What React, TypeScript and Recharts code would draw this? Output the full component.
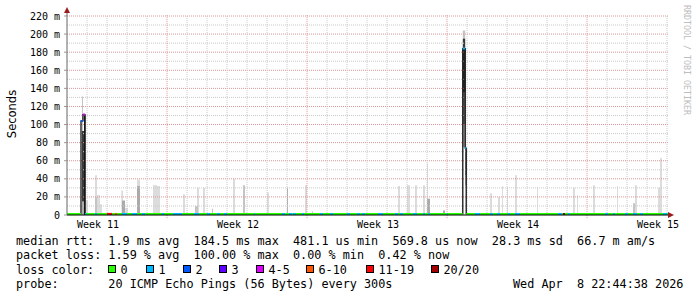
import { ComposedChart, Line, XAxis, YAxis, ReferenceArea, ReferenceLine } from 'recharts';

const MONO = "'DejaVu Sans Mono', monospace";
const SANS = "'DejaVu Sans', sans-serif";

// x axis runs in days from the left edge of the graph
const weekLabels = ['Week 11', 'Week 12', 'Week 13', 'Week 14', 'Week 15'];
const weekLabelAt = [1.55, 8.55, 15.55, 22.55, 29.55];
const weekStarts = [5, 12, 19, 26];
const dayLines = [1, 2, 3, 4, 6, 7, 8, 9, 10, 11, 13, 14, 15, 16, 17, 18, 20, 21, 22, 23, 24, 25, 27, 28, 29, 30];
const yTicks = [0, 20, 40, 60, 80, 100, 120, 140, 160, 180, 200, 220];
const yMinor = [10, 30, 50, 70, 90, 110, 130, 150, 170, 190, 210];

const lossLabels = ['0', '1', '2', '3', '4-5', '6-10', '11-19', '20/20'];
const lossColors = ['#26ff00', '#00b8ff', '#0059ff', '#5e00ff', '#dd00ff', '#ff5500', '#ff0000', '#a10000'];

// median rtt in ms (drawn as a step line)
const medianDay = [0, 0.7, 0.8, 0.9, 19.79, 19.91, 19.96, 30.1];
const medianMs = [1.2, 104, 111, 1.2, 184, 74, 1.2, 1.2];

// median segments coloured by loss level (index into lossColors)
const segStart = [0, 0.9, 19.96, 0.7, 0.8, 19.79, 19.91,
  0.9, 1.4, 2.0, 2.4, 2.75, 3.25, 3.75, 4.75, 5.3, 6.35, 7.0, 7.5, 7.85, 9.35,
  10.75, 11.1, 11.3, 11.75, 12.65, 13.15, 14.0, 14.5, 14.75, 15.55, 16.4, 16.65, 17.3, 17.8, 18.05, 19.0,
  20.4, 21.15, 21.5, 22.05, 22.4, 24.55, 24.8, 25.05, 26.9, 27.3, 27.9, 28.3, 28.65, 29.8];
const segEnd = [0.7, 19.79, 30.1, 0.8, 0.9, 19.91, 19.96,
  0.97, 1.5, 2.25, 2.5, 3.0, 3.5, 3.9, 4.85, 5.75, 6.6, 7.15, 7.65, 8.0, 9.4,
  10.9, 11.25, 11.45, 11.85, 12.8, 13.3, 14.15, 14.65, 14.9, 15.8, 16.55, 16.8, 17.5, 17.9, 18.15, 19.05,
  20.65, 21.3, 21.65, 22.15, 22.65, 24.75, 24.9, 25.15, 27.05, 27.4, 28.05, 28.5, 28.8, 30.0];
const segMs = [1.2, 1.2, 1.2, 104, 111, 184, 74,
  1.2, 1.2, 1.2, 1.2, 1.2, 1.2, 1.2, 1.2, 1.2, 1.2, 1.2, 1.2, 1.2, 1.2,
  1.2, 1.2, 1.2, 1.2, 1.2, 1.2, 1.2, 1.2, 1.2, 1.2, 1.2, 1.2, 1.2, 1.2, 1.2, 1.2,
  1.2, 1.2, 1.2, 1.2, 1.2, 1.2, 1.2, 1.2, 1.2, 1.2, 1.2, 1.2, 1.2, 1.2];
const segLoss = [0, 0, 0, 2, 4, 1, 1,
  1, 1, 6, 5, 1, 1, 1, 1, 1, 1, 1, 1, 1, 1,
  1, 1, 1, 1, 1, 1, 1, 1, 1, 1, 1, 1, 1, 1, 1, 1,
  1, 1, 1, 1, 1, 1, 7, 1, 1, 1, 1, 1, 1, 1];

// smoke (rtt spread) in ms; density 0 = light .. 4 = dense
const smokeStart = [0.75, 0.75, 0.75, 0.85, 19.79, 19.79, 19.79, 19.79, 19.91, 19.91,
  0.95, 1.4, 1.4, 1.5, 1.65, 2.73, 2.75, 2.9, 3.5, 3.5, 4.3, 4.5, 5.8, 6.5, 6.4, 6.8, 7.25, 8.3, 8.8,
  10.0, 11.0, 11.9, 12.25, 16.55, 17.0, 17.4, 17.8, 18.0, 18.0, 18.8, 21.15, 21.55, 21.75, 22.0, 22.4,
  23.5, 25.3, 25.5, 26.3, 27.5, 28.4, 28.3, 29.55, 29.65];
const smokeEnd = [0.8, 0.85, 0.85, 0.92, 19.91, 19.91, 19.91, 19.91, 19.97, 19.97,
  1.05, 1.5, 1.5, 1.65, 1.75, 2.78, 2.9, 3.05, 3.65, 3.65, 4.5, 4.65, 5.9, 6.6, 6.55, 6.9, 7.3, 8.4, 8.9,
  10.1, 11.05, 12.0, 12.3, 16.65, 17.15, 17.5, 17.9, 18.05, 18.15, 18.9, 21.25, 21.65, 21.8, 22.05, 22.5,
  23.55, 25.4, 25.55, 26.4, 27.55, 28.5, 28.4, 29.7, 29.75];
const smokeLo = [93, 0, 15, 0, 195, 136, 100, 75, 33, 44,
  0, 0, 0, 0, 0, 0, 0, 0, 0, 0, 0, 0, 0, 0, 0, 0, 0, 0, 0,
  0, 0, 0, 0, 0, 0, 0, 0, 0, 0, 0, 0, 0, 0, 0, 0,
  0, 0, 0, 0, 0, 0, 0, 0, 0];
const smokeHi = [131, 15, 93, 110, 204, 195, 136, 100, 44, 74,
  16, 44, 20, 22, 12, 27, 16, 8, 39, 32, 33, 32, 23, 30, 10, 30, 7, 40, 33,
  25, 30, 33, 4, 32, 33, 33, 33, 57, 18, 5, 24, 20, 32, 31, 44,
  31, 30, 22, 33, 32, 33, 13, 30, 63];
const smokeDensity = [1, 2, 4, 4, 1, 4, 3, 2, 2, 3,
  0, 0, 1, 0, 0, 1, 2, 0, 0, 2, 0, 0, 0, 0, 1, 0, 1, 0, 1,
  0, 2, 0, 1, 0, 0, 0, 0, 0, 2, 2, 0, 0, 0, 0, 0,
  0, 0, 0, 0, 0, 0, 1, 0, 0];
const smokeColors = ['#dcdcdc', '#c4c4c4', '#aaaaaa', '#6e6e6e', '#3a3a3a'];

// legend
const legendBoxX = [108, 146, 183, 219, 256, 306, 366, 431];
const rowMedian = 'median rtt:  1.9 ms avg  184.5 ms max  481.1 us min  569.8 us now  28.3 ms sd  66.7 m am/s';
const rowLoss = 'packet loss: 1.59 % avg  100.00 % max  0.00 % min  0.42 % now';
const rowProbe = 'probe:       20 ICMP Echo Pings (56 Bytes) every 300s';
const stamp = 'Wed Apr  8 22:44:38 2026';

const medianData = medianDay.map((t, i) => ({ t, v: medianMs[i] }));

function lossSeries(level: number) {
  const pts: { t: number; v: number | null }[] = [];
  segStart.forEach((s, i) => {
    if (segLoss[i] !== level) return;
    pts.push({ t: s, v: segMs[i] }, { t: segEnd[i], v: segMs[i] }, { t: segEnd[i], v: null });
  });
  return pts;
}

const ARROW = '#9b1c1c';

export default function App() {
  const levels = lossColors.map((_, i) => i).filter(i => segLoss.includes(i));
  return (
    <div style={{ position: 'absolute', left: 0, top: 0, width: 697, height: 297, background: '#fff' }}>
      <ComposedChart width={697} height={297} margin={{ top: 16, right: 28, bottom: 62, left: 0 }}>
        <XAxis
          dataKey="t"
          type="number"
          domain={[0, 30.1]}
          allowDataOverflow
          ticks={weekLabelAt}
          interval={0}
          tickFormatter={(v: number) => weekLabels[weekLabelAt.indexOf(v)]}
          tickLine={false}
          tickSize={0}
          tickMargin={6}
          height={20}
          axisLine={{ stroke: '#000' }}
          tick={{ fontFamily: MONO, fontSize: 10, fill: '#000' }}
        />
        <YAxis
          type="number"
          domain={[0, 220]}
          allowDataOverflow
          ticks={yTicks}
          interval={0}
          width={67}
          tickFormatter={(v: number) => (v === 0 ? '0' : `${v} m`)}
          tickSize={3}
          tickMargin={4}
          tickLine={{ stroke: '#999' }}
          axisLine={{ stroke: '#666' }}
          tick={{ fontFamily: MONO, fontSize: 10, fill: '#000' }}
        />
        {yMinor.map(v => (
          <ReferenceLine key={'hm' + v} y={v} stroke="#cacaca" strokeDasharray="1 1" />
        ))}
        {yTicks.filter(v => v > 0).map(v => (
          <ReferenceLine key={'hM' + v} y={v} stroke="#dc9696" strokeDasharray="1 1" />
        ))}
        {dayLines.map(d => (
          <ReferenceLine key={'vm' + d} segment={[{ x: d, y: 0 }, { x: d, y: 221 }]} stroke="#cacaca" strokeDasharray="1 1" ifOverflow="visible" />
        ))}
        {weekStarts.map(d => (
          <ReferenceLine key={'vM' + d} segment={[{ x: d, y: -3.5 }, { x: d, y: 221 }]} stroke="#dc9696" strokeDasharray="1 1" ifOverflow="visible" />
        ))}
        {smokeStart.map((s, i) => (
          <ReferenceArea
            key={'s' + i}
            x1={s}
            x2={smokeEnd[i]}
            y1={smokeLo[i]}
            y2={smokeHi[i]}
            fill={smokeColors[smokeDensity[i]]}
            fillOpacity={1}
            stroke="none"
          />
        ))}
        <Line data={medianData} dataKey="v" type="stepAfter" stroke="#000" strokeWidth={1.2} dot={false} activeDot={false} isAnimationActive={false} />
        {levels.map(l => (
          <Line
            key={'l' + l}
            data={lossSeries(l)}
            dataKey="v"
            type="linear"
            stroke={lossColors[l]}
            strokeWidth={2}
            dot={false}
            activeDot={false}
            connectNulls={false}
            isAnimationActive={false}
          />
        ))}
      </ComposedChart>
      <svg width={697} height={297} style={{ position: 'absolute', left: 0, top: 0, pointerEvents: 'none' }}>
        <line x1={67} y1={12} x2={67} y2={16} stroke="#666" />
        <polygon points="64,13 70,13 67,7" fill={ARROW} />
        <polygon points="668,212 668,218 674,215" fill={ARROW} />
        <text x={16} y={114} transform="rotate(-90 16 114)" textAnchor="middle" fontFamily={SANS} fontSize={11.5} fill="#000">
          Seconds
        </text>
        <text x={684} y={5} transform="rotate(90 684 5)" fontFamily={MONO} fontSize={8.3} fill="#bdbdbd">
          RRDTOOL / TOBI OETIKER
        </text>
        <g fontFamily={MONO} fontSize={11.8} fill="#000" style={{ whiteSpace: 'pre' }}>
          <text x={16} y={245} xmlSpace="preserve">{rowMedian}</text>
          <text x={16} y={259.3} xmlSpace="preserve">{rowLoss}</text>
          <text x={16} y={273.5}>loss color:</text>
          {legendBoxX.map((bx, i) => (
            <g key={'lg' + i}>
              <rect x={bx + 0.5} y={265.5} width={7} height={7} fill={lossColors[i]} stroke="#000" strokeWidth={1} />
              <text x={bx + 12.5} y={273.5}>{lossLabels[i]}</text>
            </g>
          ))}
          <text x={16} y={287.7} xmlSpace="preserve">{rowProbe}</text>
          <text x={513} y={287.7} xmlSpace="preserve">{stamp}</text>
        </g>
      </svg>
    </div>
  );
}
